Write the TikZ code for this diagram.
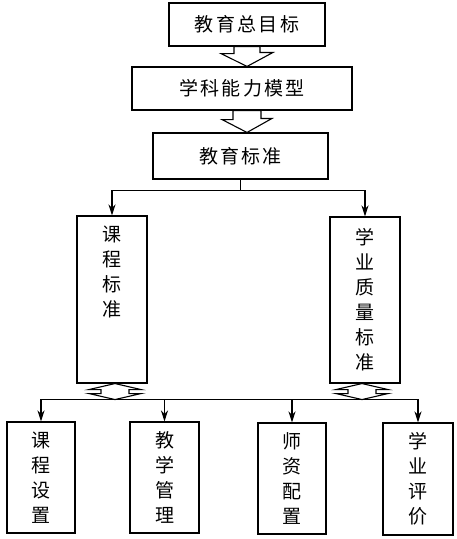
\documentclass[tikz,border=0pt]{standalone}
\usepackage{fontspec}
\newfontfamily\cjk[LetterSpace=12]{Noto Sans CJK SC}
\usetikzlibrary{positioning,arrows.meta}

\begin{document}
\begin{tikzpicture}[x=1pt, y=-1pt, line width=1.1pt,
    box/.style={draw, inner sep=0pt, font=\cjk\fontsize{19}{19}\selectfont},
    vtext/.style={align=center, inner sep=0pt, font=\cjk\fontsize{19}{25}\selectfont},
    vbox/.style={vtext, draw},
    hollow/.style={draw, fill=white, line join=miter},
    tip/.style={-{Stealth[length=11pt,width=7pt]}}]
    \useasboundingbox (0,0) rectangle (457,539);
    \node[box, minimum width=156pt, minimum height=43pt] (goal) at (247,24.5) {教育总目标};
    \node[box, minimum width=220pt, minimum height=43pt] (model) at (242,88.5) {学科能力模型};
    \node[box, minimum width=175pt, minimum height=46pt] (std) at (240.5,156) {教育标准};
    \node[vbox, minimum width=70pt, minimum height=167pt] (kcbz) at (112,299.5) {};
    \node[vtext, below=10pt of kcbz.north] (kcbzt) {课\\程\\标\\准};
    \node[vbox, minimum width=70pt, minimum height=166pt] (xyzl) at (365,300) {学\\业\\质\\量\\标\\准};
    \node[vbox, minimum width=68pt, minimum height=111pt] (kcsz) at (41,477.5) {课\\程\\设\\置};
    \node[vbox, minimum width=69pt, minimum height=111pt] (jxgl) at (164.5,477.5) {教\\学\\管\\理};
    \node[vbox, minimum width=68pt, minimum height=111pt] (szpz) at (292,478.5) {师\\资\\配\\置};
    \node[vbox, minimum width=70pt, minimum height=112pt] (xypj) at (418,479) {学\\业\\评\\价};

    \draw[hollow] ([xshift=-13pt]goal.south) -- ++(0,7) -- ++(-13,0) -- (goal.south |- model.north)
        -- ++(26,-14) -- ++(-13,0) -- ([xshift=13pt]goal.south) -- cycle;
    \draw[hollow] ([xshift=-14pt]model.south -| goal.south) -- ++(0,9) -- ++(-11,0) -- (goal.south |- std.north)
        -- ++(25,-14) -- ++(-11,0) -- ([xshift=14pt]model.south -| goal.south) -- cycle;

    \draw[tip] (std.south) -- ++(0,11) -| (kcbz.north);
    \draw[tip] (std.south) -- ++(0,11) -| (xyzl.north);

    \draw[hollow] ([xshift=3pt]kcbz.south) -- ++(26,6) -- ++(-12,0) -- ++(0,4) -- ++(12,0) -- ++(-26,6) coordinate (kbus)
        -- ++(-26,-6) -- ++(12,0) -- ++(0,-4) -- ++(-12,0) -- cycle;
    \draw[hollow] ([xshift=-3pt]xyzl.south) -- ++(26,6) -- ++(-12,0) -- ++(0,4) -- ++(12,0) -- ++(-26,6) coordinate (xbus)
        -- ++(-26,-6) -- ++(12,0) -- ++(0,-4) -- ++(-12,0) -- cycle;

    \draw (kbus) -- (xbus);
    \draw[tip] (kbus) -| (kcsz.north);
    \draw[tip] (kbus) -| (jxgl.north);
    \draw[tip] (xbus) -| (szpz.north);
    \draw[tip] (xbus) -| (xypj.north);
\end{tikzpicture}
\end{document}
